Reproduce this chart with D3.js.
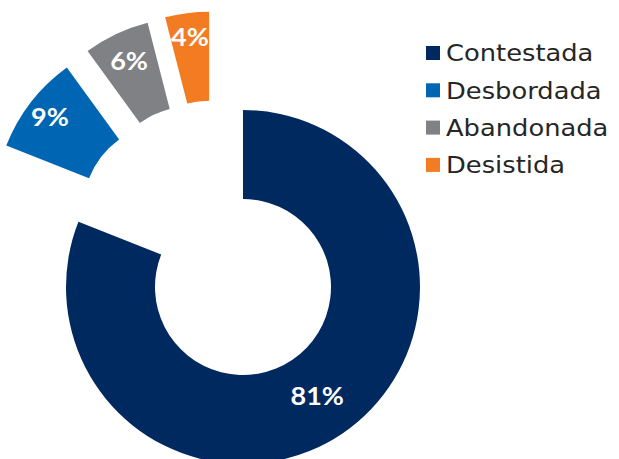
<!DOCTYPE html>
<html><head><meta charset="utf-8">
<script src="https://cdn.jsdelivr.net/npm/d3@7"></script>
<style>body{margin:0;background:#fff;} svg{display:block;}</style>
</head><body>
<script>
const categories = ["Contestada", "Desbordada", "Abandonada", "Desistida"];
const values = [81, 9, 6, 4];
const labels = ["81%", "9%", "6%", "4%"];
const colors = ["#002960", "#0066B3", "#808184", "#F37B21"];
// explosion (style): distance and direction (degrees clockwise from 12 o'clock)
const explodeDist = [0, 105, 106, 104];
const explodeDir = [0, 316.6, 331, 341];
const labelRadius = [132, 153, 147, 153];

const W = 619, H = 459;
const cx = 243, cy = 287, R = 177, r0 = 88;
const svg = d3.select("body").append("svg").attr("width", W).attr("height", H);

const pie = d3.pie().sort(null).value(d => d)(values);
const arc = d3.arc().innerRadius(r0).outerRadius(R);
const rad = Math.PI / 180;

const g = svg.append("g").attr("transform", `translate(${cx},${cy})`);
const slices = g.selectAll("g.slice").data(pie).enter().append("g")
  .attr("class", "slice")
  .attr("transform", (d, i) => {
    const a = explodeDir[i] * rad, e = explodeDist[i];
    return `translate(${e * Math.sin(a)},${-e * Math.cos(a)})`;
  });
slices.append("path").attr("d", arc).attr("fill", (d, i) => colors[i]);
slices.append("text")
  .attr("transform", (d, i) => {
    const m = (d.startAngle + d.endAngle) / 2, lr = labelRadius[i];
    return `translate(${lr * Math.sin(m)},${-lr * Math.cos(m)}) scale(1.08,1)`;
  })
  .attr("text-anchor", "middle").attr("dy", "0.35em")
  .attr("fill", "#fff").attr("font-family", "Lato, sans-serif")
  .attr("font-weight", "bold").attr("font-size", 25)
  .text((d, i) => labels[i]);

const leg = svg.append("g").attr("transform", "translate(426,53)");
const items = leg.selectAll("g").data(categories).enter().append("g")
  .attr("transform", (d, i) => `translate(0,${i * 37.3})`);
items.append("rect").attr("x", 0).attr("y", -7).attr("width", 14).attr("height", 14)
  .attr("fill", (d, i) => colors[i]);
items.append("text").attr("transform", "translate(20,0) scale(1.12,1)").attr("dy", "0.36em")
  .attr("font-family", "DejaVu Sans, sans-serif").attr("font-size", 23)
  .attr("fill", "#262626").text(d => d);
</script>
</body></html>
